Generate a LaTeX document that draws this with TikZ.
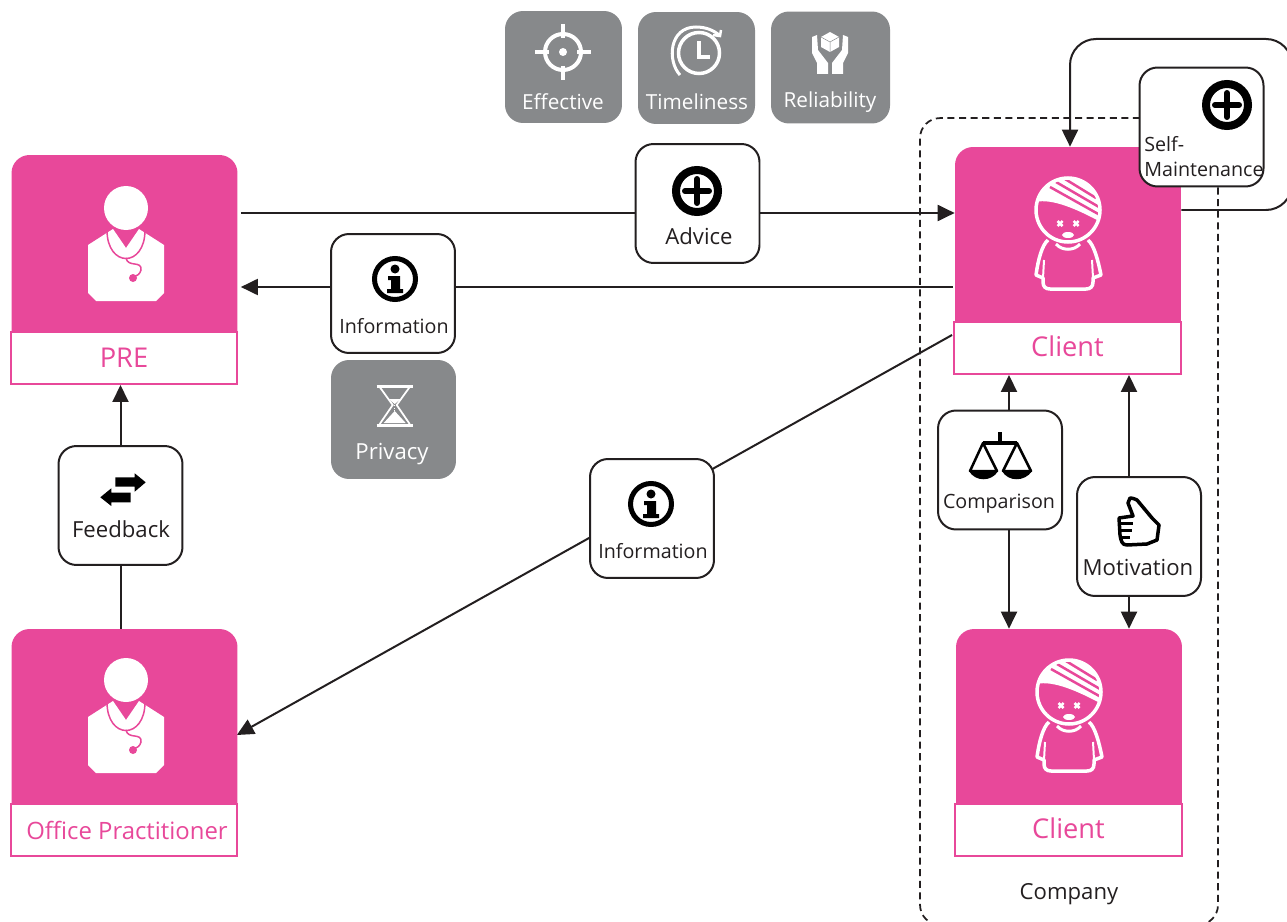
\documentclass[tikz,border=0pt]{standalone}
\usepackage{fontspec}
\setmainfont{Open Sans}
\usetikzlibrary{arrows.meta,backgrounds}

\definecolor{cardpink}{HTML}{E8489A}
\definecolor{boxgray}{HTML}{87898B}
\definecolor{linedark}{HTML}{231F20}

\tikzset{
  card/.style={fill=cardpink, rounded corners=0.36cm, minimum width=4.52cm, minimum height=4cm, inner sep=0pt},
  cardlab/.style={draw=cardpink, fill=white, line width=0.04cm, minimum width=4.54cm, minimum height=1.04cm, inner sep=0pt, text=cardpink, font=\fontsize{15.5}{18}\selectfont},
  whitebox/.style={draw=linedark, fill=white, line width=0.04cm, rounded corners=0.36cm, minimum width=2.48cm, minimum height=2.38cm},
  graybox/.style={fill=boxgray, rounded corners=0.36cm, minimum width=2.34cm, minimum height=2.24cm},
  boxtext/.style={text=linedark, inner sep=0pt, font=\fontsize{11.2}{14.2}\selectfont},
  bigtext/.style={boxtext, font=\fontsize{12.6}{15}\selectfont},
  graytext/.style={boxtext, text=white, font=\fontsize{11.8}{14}\selectfont},
  link/.style={draw=linedark, line width=0.04cm},
  flow/.style={link, -{Triangle[length=0.34cm,width=0.32cm]}},
  companybox/.style={draw=linedark, dash pattern=on 4pt off 2.6pt, line width=0.035cm, rounded corners=0.4cm, minimum width=5.96cm, minimum height=16.14cm},
  % iconos
  doctor/.pic={
    \fill[white] (0,0) circle (22);
    \fill[white] (-13,21) -- (-38,37) -- (-38,85) -- (-30,93) -- (30,93) -- (38,85) -- (38,37) -- (13,21) -- (0,40) -- cycle;
    \draw[cardpink, line width=0.03cm] (-19,22) .. controls (-19,60) and (19,60) .. (19,22);
    \draw[cardpink, line width=0.03cm] (0,50) .. controls (2,60) and (16,52) .. (15,62) .. controls (14,66) and (11,68) .. (8,69);
    \fill[cardpink] (7,70) circle (4);
  },
  patient/.pic={
    \begin{scope}
      \clip (0,0) circle (32);
      \fill[white] (-33,-8) .. controls (-15,-12) and (10,0) .. (33,12) -- (33,-35) -- (-33,-35) -- cycle;
      \draw[cardpink, line width=0.05cm] (-18,-23) -- (32,5) (-12,-28) -- (31,-3) (-3,-31) -- (28,-12);
    \end{scope}
    \draw[white, line width=0.07cm] (0,0) circle (32);
    \draw[white, line width=0.05cm] (-10.5,11) -- (-5.5,16) (-5.5,11) -- (-10.5,16) (5.5,11) -- (10.5,16) (10.5,11) -- (5.5,16);
    \fill[white] (0,25) ellipse (6 and 3);
    \draw[white, line width=0.07cm, line join=round] (-20,30) .. controls (-26,35) and (-30,50) .. (-32,65) -- (-25,68) -- (-25,72) .. controls (-25,77) and (-22,79) .. (-18,79) -- (18,79) .. controls (22,79) and (25,77) .. (25,72) -- (25,68) -- (33,65) .. controls (30,50) and (26,35) .. (20,30);
    \draw[white, line width=0.06cm] (-12,34) .. controls (-6,41) and (6,41) .. (12,34);
    \draw[white, line width=0.04cm] (-24,50) -- (-25,68) (24,50) -- (25,68);
  },
  plusicon/.pic={
    \draw[black, line width=0.16cm] (0,0) circle (21);
    \draw[black, line width=0.12cm, line cap=round] (-12,0) -- (12,0) (0,-12) -- (0,12);
  },
  infoicon/.pic={
    \draw[black, line width=0.1cm] (0,0) circle (20.5);
    \fill[black] (0,-10) circle (4.5);
    \fill[black] (-7,-3) -- (5,-3) -- (5,10) -- (8,10) -- (8,14) -- (-8,14) -- (-8,10) -- (-4,10) -- (-4,1) -- (-7,1) -- cycle;
  },
  targeticon/.pic={
    \draw[white, line width=0.08cm] (0,0) circle (18);
    \fill[white] (0,0) circle (4);
    \draw[white, line width=0.09cm] (-28,0) -- (-14,0) (14,0) -- (28,0) (0,-28) -- (0,-14) (0,14) -- (0,28);
  },
  clockicon/.pic={
    \draw[white, line width=0.07cm] (0,0) circle (20.5);
    \draw[white, line width=0.07cm] (0,-12) -- (0,4) -- (11,4);
    \draw[white, line width=0.06cm] (-19,22) .. controls (-32,8) and (-30,-26) .. (-3,-26) .. controls (6,-26) and (15,-23) .. (21,-17);
    \draw[white, line width=0.05cm] (22,-23) -- (21,-17) -- (14,-18);
  },
  handsicon/.pic={
    \fill[white] (-18,-13) -- (-13,-15) -- (-12,0) -- (-2,13) -- (-2,24) -- (-13,24) -- (-13,13) -- (-18,3) -- cycle;
    \fill[white] (18,-13) -- (13,-15) -- (12,0) -- (2,13) -- (2,24) -- (13,24) -- (13,13) -- (18,3) -- cycle;
    \fill[white] (0,-18) -- (9,-13) -- (9,-3) -- (0,2) -- (-9,-3) -- (-9,-13) -- cycle;
    \draw[boxgray, line width=0.01cm] (-9,-13) -- (0,-8) -- (9,-13) (0,-8) -- (0,2);
  },
  glassicon/.pic={
    \draw[white, line width=0.06cm] (-18,-19) -- (18,-19) (-18,20) -- (18,20);
    \draw[white, line width=0.035cm] (-15,-18) -- (-2,0) -- (-15,19) (15,-18) -- (2,0) -- (15,19);
    \fill[white] (-11,18) -- (0,6) -- (11,18) -- cycle;
    \fill[white] (-6,-6) -- (6,-6) -- (0,-1) -- cycle;
    \draw[white, line width=0.015cm, densely dotted] (0,0) -- (0,6);
  },
  swapicon/.pic={
    \fill[black] (-7.7,-12.7) -- (11.7,-12.7) -- (11.7,-16.7) -- (22.7,-7.7) -- (11.7,1.7) -- (11.7,-3.3) -- (-7.7,-3.3) -- cycle;
    \fill[black] (7.7,2.7) -- (-11.7,2.7) -- (-11.7,-1.7) -- (-22.7,7.3) -- (-11.7,16) -- (-11.7,12.3) -- (7.7,12.3) -- cycle;
  },
  scaleicon/.pic={
    \draw[black, line width=0.07cm] (0,-11) -- (0,0) (-17,0) -- (17,0);
    \draw[black, line width=0.05cm, line join=round] (-30,28) -- (-17,0) -- (-3,28) -- cycle (3,28) -- (17,0) -- (31,28) -- cycle;
    \fill[black] (-31,28) .. controls (-25,39) and (-8,39) .. (-2,28) -- cycle;
    \fill[black] (2,28) .. controls (8,39) and (25,39) .. (32,28) -- cycle;
  },
  thumbicon/.pic={
    \draw[black, line width=0.07cm, line join=round, fill=white] (-10,-25) .. controls (-6,-25) and (-4,-23) .. (-3,-23) -- (12,-5) -- (19,2) -- (17,17) -- (7,21) -- (-13,22) .. controls (-18,22) and (-19,18) .. (-20,12) -- (-21,-5) -- (-7,-7) -- (-12,-20) -- cycle;
    \draw[black, line width=0.06cm] (-21,0) -- (-7,0) (-20,7) -- (-8,7) (-18,14) -- (-10,14);
  }
}

\begin{document}
\begin{tikzpicture}[x=0.02cm, y=-0.02cm]
\useasboundingbox (0,0) rectangle (1287,922);

% Tarjetas de la izquierda
\node[card] (pre) at (124.5,255) {};
\node[cardlab] (prelab) at (124,358) {PRE};
\pic at (126,208) {doctor};
\node[card] (office) at (124.5,729) {};
\node[cardlab, font=\fontsize{13.6}{16}\selectfont] (officelab) at (124,830) {\hspace*{0.12cm}Office Practitioner};
\pic at (126,680) {doctor};

% Tarjetas de la derecha
\node[card] (client) at (1068,247) {};
\node[cardlab, text depth=0.08cm] (clientlab) at (1067.5,348) {Client};
\pic at (1068,210) {patient};
\node[card] (coworker) at (1069,729) {};
\node[cardlab, text depth=0.08cm] (coworkerlab) at (1068.5,830) {Client};
\pic at (1069,692) {patient};
\node[bigtext] (company) at (1069,894) {Company};

% Cajas grises de arriba
\node[graybox] (effective) at (563.5,67) {};
\node[graytext] (effectivet) at (563,102) {Effective};
\pic at (563,52) {targeticon};
\node[graybox] (timeliness) at (696.5,68) {};
\node[graytext] (timelinesst) at (697,102) {Timeliness};
\pic at (699,53) {clockicon};
\node[graybox, minimum width=2.38cm] (reliability) at (830.5,67.5) {};
\node[graytext] (reliabilityt) at (830,102) {Reliability};
\pic at (830,50) {handsicon};
\node[graybox, minimum width=2.5cm, minimum height=2.38cm] (privacy) at (393.5,419.5) {};
\node[bigtext, text=white] (privacyt) at (392,454) {Privacy};
\pic at (394.7,405) {glassicon};

% Cajas blancas
\node[whitebox] (advice) at (697.5,203.5) {};
\node[bigtext] (advicet) at (699,236) {Advice};
\pic at (697,191) {plusicon};
\node[whitebox] (info) at (393,293.5) {};
\node[boxtext] (infot) at (394,326) {Information};
\pic at (395,279) {infoicon};
\node[whitebox] (feedback) at (120.5,505.5) {};
\node[bigtext] (feedbackt) at (121,529) {Feedback};
\pic at (123,490) {swapicon};
\node[whitebox] (infotwo) at (652,518.5) {};
\node[boxtext] (infotwot) at (653,551) {Information};
\pic at (651,504) {infoicon};
\node[whitebox] (comparison) at (1000,470) {};
\node[boxtext] (comparisont) at (999,504) {Comparison};
\pic at (1000,443) {scaleicon};
\node[whitebox] (motivation) at (1139,536.5) {};
\node[bigtext] (motivationt) at (1138,567) {Motivation};
\pic at (1140,523) {thumbicon};
\node[whitebox] (selfm) at (1201.5,127) {};
\node[boxtext, align=left, anchor=west] (selfmt) at (1144,157) {Self-\\Maintenance};
\pic at (1227,105) {plusicon};

% Puntos de salida de las flechas
\coordinate (prea) at ([shift={(3,-42)}]pre.east);
\coordinate (preb) at ([shift={(3,32)}]pre.east);
\coordinate (clientout) at ([shift={(-1,14)}]clientlab.north west);
\coordinate (officein) at ([shift={(-1,6)}]office.east);
\coordinate (loopout) at ([shift={(0,-37)}]client.east);
\coordinate (cmpx) at (1009,470);
\coordinate (motx) at (1129,536);

\begin{scope}[on background layer]
\node[companybox] (companybox) at (1069,521.5) {};
\draw[link] (prea) -- (advice.west |- prea);
\draw[flow] (advice.east |- prea) -- (client.west |- prea);
\draw[link] ([xshift=-0.04cm]client.west |- preb) -- (info.east |- preb);
\draw[flow] (info.west |- preb) -- (preb);
\draw[flow] (clientout) -- (officein);
\draw[link] (office.north -| feedback) -- (feedback.south);
\draw[flow] (feedback.north) -- (prelab.south -| feedback);
\draw[flow] (comparison.north -| cmpx) -- (clientlab.south -| cmpx);
\draw[flow] (comparison.south -| cmpx) -- (coworker.north -| cmpx);
\draw[flow] (motivation.north -| motx) -- (clientlab.south -| motx);
\draw[flow] (motivation.south -| motx) -- (coworker.north -| motx);
\draw[flow, rounded corners=0.52cm] (loopout) -- (1292,210) -- (1292,39) -- (1070,39) -- (client.north -| 1070,0);
\end{scope}
\end{tikzpicture}
\end{document}
